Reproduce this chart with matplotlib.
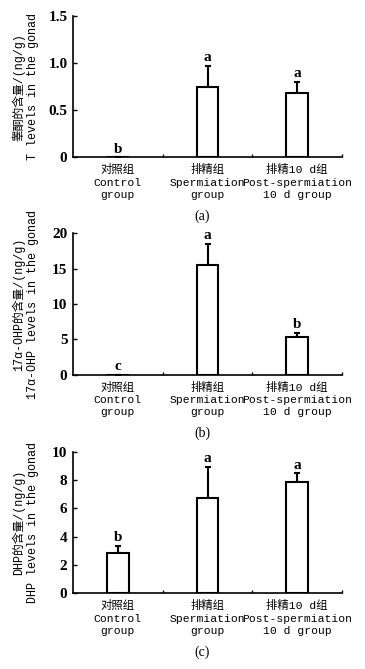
import matplotlib
matplotlib.use('Agg')
import matplotlib.pyplot as plt
import numpy as np

# fonts: monospace latin + CJK fallback
MONO = ['Liberation Mono', 'Noto Sans CJK SC']
SERIF = ['Liberation Serif', 'Noto Sans CJK SC']

groups = ["对照组\nControl\ngroup",
          "排精组\nSpermiation\ngroup",
          "排精10 d组\nPost-spermiation\n10 d group"]

# panel (a) T
t_mean = [0.0, 0.75, 0.68]
t_err = [0.0, 0.22, 0.12]
t_sig = ["b", "a", "a"]

# panel (b) 17a-OHP
ohp_mean = [0.0, 15.6, 5.4]
ohp_err = [0.0, 2.9, 0.5]
ohp_sig = ["c", "a", "b"]

# panel (c) DHP
dhp_mean = [2.87, 6.7, 7.83]
dhp_err = [0.48, 2.23, 0.64]
dhp_sig = ["b", "a", "a"]

panels = [
    {"mean": t_mean, "err": t_err, "sig": t_sig,
     "ylabel": "睾酮的含量/(ng/g)\nT levels in the gonad",
     "yticks": [0, 0.5, 1.0, 1.5], "yticklabels": ["0", "0.5", "1.0", "1.5"],
     "ymax": 1.5, "pos": [0.2, 0.765, 0.737, 0.211], "cap": "(a)"},
    {"mean": ohp_mean, "err": ohp_err, "sig": ohp_sig,
     "ylabel": "17α-OHP的含量/(ng/g)\n17α-OHP levels in the gonad",
     "yticks": [0, 5, 10, 15, 20], "yticklabels": ["0", "5", "10", "15", "20"],
     "ymax": 20, "pos": [0.2, 0.440, 0.737, 0.211], "cap": "(b)"},
    {"mean": dhp_mean, "err": dhp_err, "sig": dhp_sig,
     "ylabel": "DHP的含量/(ng/g)\nDHP levels in the gonad",
     "yticks": [0, 2, 4, 6, 8, 10], "yticklabels": ["0", "2", "4", "6", "8", "10"],
     "ymax": 10, "pos": [0.2, 0.113, 0.737, 0.212], "cap": "(c)"},
]

fig = plt.figure(figsize=(3.65, 6.69), dpi=100)

x = np.arange(len(groups))
lw = 1.5

for p in panels:
    ax = fig.add_axes(p["pos"])
    ax.bar(x, p["mean"], width=0.24, color="white", edgecolor="black",
           linewidth=lw, zorder=2)
    ax.errorbar(x, p["mean"], yerr=[np.zeros(3), p["err"]], fmt="none",
                ecolor="black", elinewidth=lw, capsize=2.5, capthick=lw,
                zorder=1)
    for xi, m, e, s in zip(x, p["mean"], p["err"], p["sig"]):
        ax.text(xi, m + e + p["ymax"] * 0.012, s, ha="center", va="bottom",
                family=SERIF, fontsize=11, weight="bold")
    ax.set_xlim(-0.5, 2.5)
    ax.set_ylim(0, p["ymax"])
    for sp in ["top", "right"]:
        ax.spines[sp].set_visible(False)
    for sp in ["left", "bottom"]:
        ax.spines[sp].set_linewidth(1.2)
    ax.set_yticks(p["yticks"])
    ax.set_yticklabels(p["yticklabels"], family=SERIF, fontsize=11,
                       weight="bold")
    ax.tick_params(axis="y", direction="in", length=3, width=1, pad=4)
    ax.set_xticks(x)
    ax.set_xticklabels(groups, family=MONO, fontsize=8.2, linespacing=1.3)
    ax.tick_params(axis="x", length=0, pad=5)
    ax.set_xticks([0.5, 1.5, 2.5], minor=True)
    ax.tick_params(axis="x", which="minor", direction="in", length=2, width=1)
    b = p["pos"]
    fig.text(0.07, b[1] + b[3] / 2, p["ylabel"], rotation=90, ha="center",
             va="center", multialignment="center", family=MONO, fontsize=8.5,
             linespacing=1.15)
    fig.text(b[0] + b[2] / 2 - 0.015, b[1] - 0.088, p["cap"], ha="center",
             va="center", family=SERIF, fontsize=10)

fig.savefig("out.png", dpi=100)
plt.close()
